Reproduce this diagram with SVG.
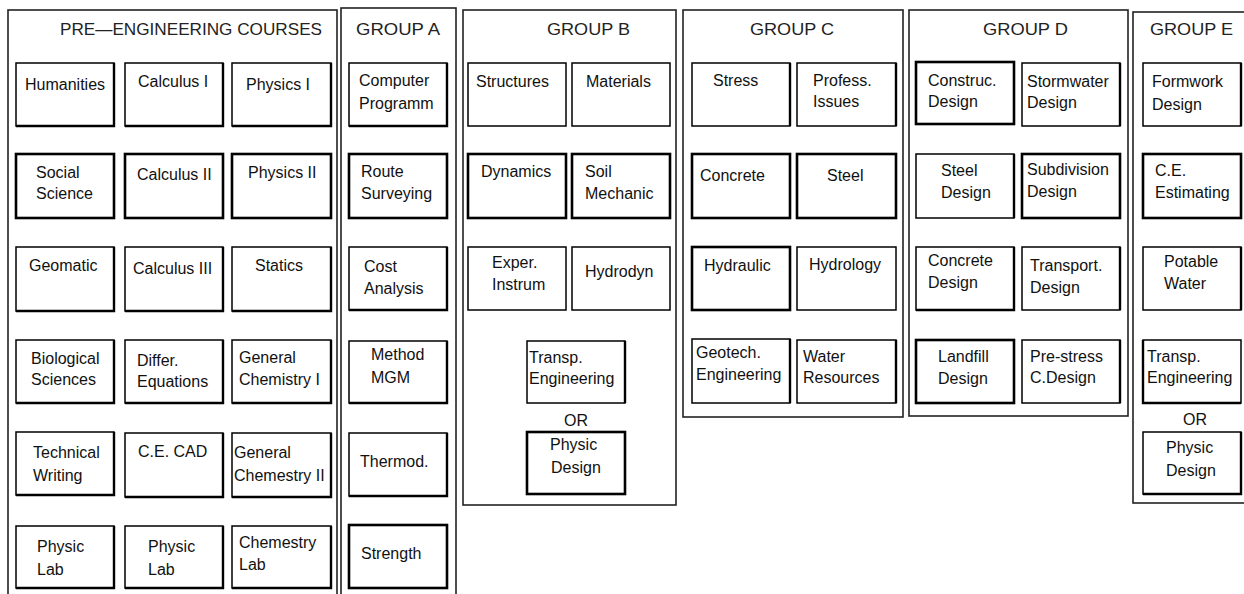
<svg xmlns="http://www.w3.org/2000/svg" width="1244" height="594" viewBox="0 0 1244 594">
<style>
.frame{fill:none;stroke:#222;stroke-width:1.6}
.box{fill:#fff;stroke:#000;stroke-width:1.5}
.hv{stroke-width:2.6}
.sh{fill:none;stroke:#000;stroke-width:2.4}
.t{font-family:"Liberation Sans",Arial,sans-serif;font-size:16px;fill:#111}
.ttl{font-family:"Liberation Sans",Arial,sans-serif;font-size:17px;fill:#222}
</style>
<rect width="1244" height="594" fill="#fff"/>
<g id="containers">
<g id="pre-engineering"><rect class="frame" x="8" y="10" width="329" height="600"/><text class="ttl" x="60" y="35" textLength="262" lengthAdjust="spacingAndGlyphs">PRE—ENGINEERING  COURSES</text></g>
<g id="group-a"><rect class="frame" x="341" y="8" width="115" height="600"/><text class="ttl" x="356" y="35" textLength="84" lengthAdjust="spacingAndGlyphs">GROUP  A</text></g>
<g id="group-b"><rect class="frame" x="463" y="10" width="213" height="495"/><text class="ttl" x="547" y="35" textLength="83" lengthAdjust="spacingAndGlyphs">GROUP  B</text></g>
<g id="group-c"><rect class="frame" x="683" y="10" width="220" height="407"/><text class="ttl" x="750" y="35" textLength="84" lengthAdjust="spacingAndGlyphs">GROUP  C</text></g>
<g id="group-d"><rect class="frame" x="909" y="10" width="219" height="406"/><text class="ttl" x="983" y="35" textLength="85" lengthAdjust="spacingAndGlyphs">GROUP  D</text></g>
<g id="group-e"><rect class="frame" x="1133" y="12" width="120" height="491"/><text class="ttl" x="1150" y="35" textLength="83" lengthAdjust="spacingAndGlyphs">GROUP  E</text></g>
</g>
<g id="connectors"></g>
<g id="nodes">
<!-- Pre-engineering column 1 -->
<g id="humanities"><rect class="box" x="16" y="63" width="98" height="63"/><path class="sh" d="M114 63V126H16"/><text class="t" x="25" y="90">Humanities</text></g>
<g id="calculus-1"><rect class="box" x="125" y="63" width="98" height="63"/><path class="sh" d="M223 63V126H125"/><text class="t" x="138" y="87">Calculus I</text></g>
<g id="physics-1"><rect class="box" x="232" y="63" width="99" height="63"/><path class="sh" d="M331 63V126H232"/><text class="t" x="246" y="90">Physics I</text></g>
<g id="social-science"><rect class="box hv" x="16" y="154" width="98" height="64"/><text class="t" x="36" y="178">Social<tspan x="36" y="199">Science</tspan></text></g>
<g id="calculus-2"><rect class="box hv" x="125" y="154" width="98" height="64"/><text class="t" x="137" y="180">Calculus II</text></g>
<g id="physics-2"><rect class="box hv" x="232" y="154" width="99" height="64"/><text class="t" x="248" y="178">Physics II</text></g>
<g id="geomatic"><rect class="box" x="16" y="247" width="98" height="64"/><path class="sh" d="M114 247V311H16"/><text class="t" x="29" y="271">Geomatic</text></g>
<g id="calculus-3"><rect class="box" x="125" y="247" width="98" height="64"/><path class="sh" d="M223 247V311H125"/><text class="t" x="133" y="274">Calculus III</text></g>
<g id="statics"><rect class="box" x="232" y="247" width="99" height="64"/><path class="sh" d="M331 247V311H232"/><text class="t" x="255" y="271">Statics</text></g>
<g id="biological-sciences"><rect class="box" x="16" y="340" width="98" height="63"/><path class="sh" d="M114 340V403H16"/><text class="t" x="31" y="364">Biological<tspan x="31" y="385">Sciences</tspan></text></g>
<g id="differ-equations"><rect class="box" x="125" y="340" width="98" height="63"/><path class="sh" d="M223 340V403H125"/><text class="t" x="137" y="366">Differ.<tspan x="137" y="387">Equations</tspan></text></g>
<g id="general-chemistry-1"><rect class="box" x="232" y="340" width="99" height="63"/><path class="sh" d="M331 340V403H232"/><text class="t" x="239" y="363">General<tspan x="239" y="385">Chemistry I</tspan></text></g>
<g id="technical-writing"><rect class="box" x="16" y="432" width="98" height="63"/><path class="sh" d="M114 432V495H16"/><text class="t" x="33" y="458">Technical<tspan x="33" y="481">Writing</tspan></text></g>
<g id="ce-cad"><rect class="box" x="125" y="433" width="98" height="64"/><path class="sh" d="M223 433V497H125"/><text class="t" x="138" y="457">C.E. CAD</text></g>
<g id="general-chemestry-2"><rect class="box" x="232" y="433" width="99" height="64"/><path class="sh" d="M331 433V497H232"/><text class="t" x="234" y="458">General<tspan x="234" y="481">Chemestry II</tspan></text></g>
<g id="physic-lab-1"><rect class="box" x="16" y="526" width="98" height="62"/><path class="sh" d="M114 526V588H16"/><text class="t" x="37" y="552">Physic<tspan x="37" y="575">Lab</tspan></text></g>
<g id="physic-lab-2"><rect class="box" x="125" y="526" width="98" height="62"/><path class="sh" d="M223 526V588H125"/><text class="t" x="148" y="552">Physic<tspan x="148" y="575">Lab</tspan></text></g>
<g id="chemestry-lab"><rect class="box" x="232" y="526" width="99" height="62"/><path class="sh" d="M331 526V588H232"/><text class="t" x="239" y="548">Chemestry<tspan x="239" y="570">Lab</tspan></text></g>
<!-- Group A -->
<g id="computer-programm"><rect class="box" x="349" y="63" width="98" height="63"/><path class="sh" d="M447 63V126H349"/><text class="t" x="359" y="86">Computer<tspan x="359" y="109">Programm</tspan></text></g>
<g id="route-surveying"><rect class="box hv" x="349" y="154" width="98" height="64"/><text class="t" x="361" y="177">Route<tspan x="361" y="199">Surveying</tspan></text></g>
<g id="cost-analysis"><rect class="box" x="349" y="247" width="98" height="63"/><path class="sh" d="M447 247V310H349"/><text class="t" x="364" y="272">Cost<tspan x="364" y="294">Analysis</tspan></text></g>
<g id="method-mgm"><rect class="box" x="349" y="341" width="98" height="62"/><path class="sh" d="M447 341V403H349"/><text class="t" x="371" y="360">Method<tspan x="371" y="383">MGM</tspan></text></g>
<g id="thermod"><rect class="box" x="349" y="433" width="98" height="63"/><path class="sh" d="M447 433V496H349"/><text class="t" x="360" y="467">Thermod.</text></g>
<g id="strength"><rect class="box hv" x="349" y="525" width="98" height="63"/><text class="t" x="361" y="559">Strength</text></g>
<!-- Group B -->
<g id="structures"><rect class="box" x="468" y="63" width="98" height="63"/><text class="t" x="476" y="87">Structures</text></g>
<g id="materials"><rect class="box" x="572" y="63" width="98" height="63"/><text class="t" x="586" y="87">Materials</text></g>
<g id="dynamics"><rect class="box hv" x="468" y="154" width="98" height="64"/><text class="t" x="481" y="177">Dynamics</text></g>
<g id="soil-mechanic"><rect class="box hv" x="572" y="154" width="98" height="64"/><text class="t" x="585" y="177">Soil<tspan x="585" y="199">Mechanic</tspan></text></g>
<g id="exper-instrum"><rect class="box" x="468" y="247" width="98" height="63"/><text class="t" x="492" y="268">Exper.<tspan x="492" y="290">Instrum</tspan></text></g>
<g id="hydrodyn"><rect class="box" x="572" y="247" width="98" height="63"/><text class="t" x="585" y="277">Hydrodyn</text></g>
<g id="transp-engineering-b"><rect class="box" x="527" y="341" width="98" height="62"/><path class="sh" d="M625 341V403"/><text class="t" x="529" y="363">Transp.<tspan x="529" y="384">Engineering</tspan></text></g>
<text class="t" x="576" y="426" text-anchor="middle">OR</text>
<g id="physic-design-b"><rect class="box hv" x="527" y="432" width="98" height="62"/><text class="t" x="550" y="450">Physic<tspan x="551" y="473">Design</tspan></text></g>
<!-- Group C -->
<g id="stress"><rect class="box" x="692" y="63" width="98" height="63"/><path class="sh" d="M790 63V126"/><text class="t" x="713" y="86">Stress</text></g>
<g id="profess-issues"><rect class="box" x="797" y="63" width="99" height="63"/><path class="sh" d="M896 63V126"/><text class="t" x="813" y="86">Profess.<tspan x="813" y="107">Issues</tspan></text></g>
<g id="concrete"><rect class="box hv" x="692" y="154" width="98" height="64"/><text class="t" x="700" y="181">Concrete</text></g>
<g id="steel"><rect class="box hv" x="797" y="154" width="99" height="64"/><text class="t" x="827" y="181">Steel</text></g>
<g id="hydraulic"><rect class="box hv" x="692" y="247" width="98" height="63"/><text class="t" x="704" y="271">Hydraulic</text></g>
<g id="hydrology"><rect class="box" x="797" y="247" width="99" height="63"/><text class="t" x="809" y="270">Hydrology</text></g>
<g id="geotech-engineering"><rect class="box" x="692" y="339" width="98" height="64"/><path class="sh" d="M790 339V403"/><text class="t" x="696" y="358">Geotech.<tspan x="696" y="380">Engineering</tspan></text></g>
<g id="water-resources"><rect class="box" x="797" y="340" width="99" height="63"/><path class="sh" d="M896 340V403"/><text class="t" x="803" y="362">Water<tspan x="803" y="383">Resources</tspan></text></g>
<!-- Group D -->
<g id="construc-design"><rect class="box hv" x="916" y="62" width="98" height="62"/><text class="t" x="928" y="86">Construc.<tspan x="928" y="107">Design</tspan></text></g>
<g id="stormwater-design"><rect class="box" x="1022" y="63" width="98" height="63"/><path class="sh" d="M1120 63V126"/><text class="t" x="1027" y="87">Stormwater<tspan x="1027" y="108">Design</tspan></text></g>
<g id="steel-design"><rect class="box" x="916" y="154" width="98" height="64"/><path class="sh" d="M1014 154V218"/><text class="t" x="941" y="176">Steel<tspan x="941" y="198">Design</tspan></text></g>
<g id="subdivision-design"><rect class="box hv" x="1022" y="154" width="98" height="64"/><text class="t" x="1027" y="175">Subdivision<tspan x="1027" y="197">Design</tspan></text></g>
<g id="concrete-design"><rect class="box" x="916" y="247" width="98" height="63"/><path class="sh" d="M1014 247V310H916"/><text class="t" x="928" y="266">Concrete<tspan x="928" y="288">Design</tspan></text></g>
<g id="transport-design"><rect class="box" x="1022" y="247" width="98" height="63"/><path class="sh" d="M1120 247V310"/><text class="t" x="1030" y="271">Transport.<tspan x="1030" y="293">Design</tspan></text></g>
<g id="landfill-design"><rect class="box hv" x="916" y="340" width="98" height="63"/><text class="t" x="938" y="362">Landfill<tspan x="938" y="384">Design</tspan></text></g>
<g id="pre-stress-design"><rect class="box" x="1022" y="340" width="98" height="63"/><path class="sh" d="M1120 340V403"/><text class="t" x="1030" y="362">Pre-stress<tspan x="1030" y="383">C.Design</tspan></text></g>
<!-- Group E -->
<g id="formwork-design"><rect class="box" x="1143" y="63" width="98" height="63"/><path class="sh" d="M1241 63V126"/><text class="t" x="1152" y="87">Formwork<tspan x="1152" y="110">Design</tspan></text></g>
<g id="ce-estimating"><rect class="box hv" x="1143" y="154" width="98" height="64"/><text class="t" x="1155" y="176">C.E.<tspan x="1155" y="198">Estimating</tspan></text></g>
<g id="potable-water"><rect class="box" x="1143" y="247" width="98" height="63"/><path class="sh" d="M1241 247V310"/><text class="t" x="1164" y="267">Potable<tspan x="1164" y="289">Water</tspan></text></g>
<g id="transp-engineering-e"><rect class="box" x="1143" y="340" width="98" height="63"/><path class="sh" d="M1143 340V403H1241"/><text class="t" x="1147" y="362">Transp.<tspan x="1147" y="383">Engineering</tspan></text></g>
<text class="t" x="1195" y="425" text-anchor="middle">OR</text>
<g id="physic-design-e"><rect class="box" x="1143" y="432" width="98" height="62"/><path class="sh" d="M1143 494H1241V432"/><text class="t" x="1166" y="453">Physic<tspan x="1166" y="476">Design</tspan></text></g>
</g>
</svg>
